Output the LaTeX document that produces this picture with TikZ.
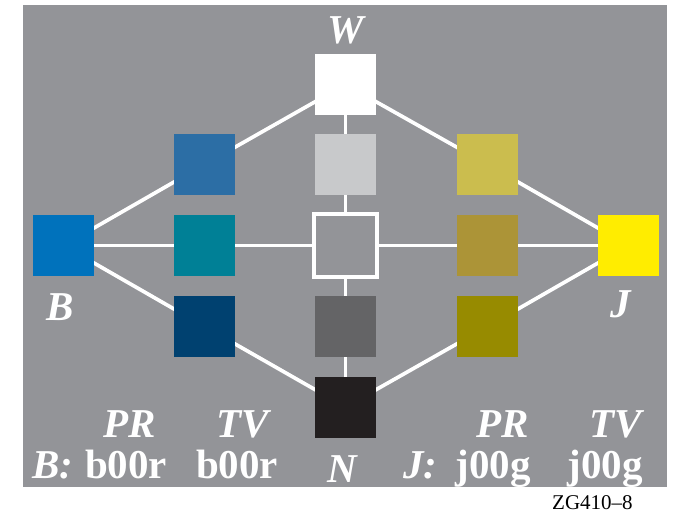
\documentclass[tikz,border=0pt]{standalone}
\usepackage{fontspec}
\setmainfont{Liberation Serif}
\usetikzlibrary{backgrounds}
\definecolor{bggray}{RGB}{147,148,152}
\definecolor{cB}{RGB}{0,114,188}
\definecolor{bTop}{RGB}{44,110,165}
\definecolor{bMid}{RGB}{0,128,150}
\definecolor{bBot}{RGB}{0,65,112}
\definecolor{nLight}{RGB}{200,201,203}
\definecolor{nDark}{RGB}{100,100,102}
\definecolor{nBlack}{RGB}{35,31,32}
\definecolor{jTop}{RGB}{203,189,78}
\definecolor{jMid}{RGB}{172,148,55}
\definecolor{jBot}{RGB}{151,139,0}
\definecolor{cJ}{RGB}{255,237,0}
\begin{document}
\begin{tikzpicture}[x=1pt,y=-1pt,
  patch/.style={draw=none,inner sep=0pt,minimum size=61pt},
  hollow/.style={draw=white,fill=bggray,line width=3.5pt,inner sep=0pt,minimum size=63pt},
  link/.style={white,line width=3.7pt},
  lbl/.style={text=white,inner sep=0pt,font=\fontsize{41}{41}\selectfont\bfseries\itshape},
  code/.style={text=white,inner sep=0pt,font=\fontsize{41}{41}\selectfont\bfseries}]
\useasboundingbox (0,0) rectangle (673,515);

% colour patches
\node[patch,fill=cB]     (B)  at (63.5,245.5) {};
\node[patch,fill=bTop]   (b1) at (204.5,164.5) {};
\node[patch,fill=bMid]   (b2) at (204.5,245.5) {};
\node[patch,fill=bBot]   (b3) at (204.5,326.5) {};
\node[patch,fill=white]  (W)  at (345.5,84.5) {};
\node[patch,fill=nLight] (n1) at (345.5,164.5) {};
\node[hollow]            (n2) at (345.5,245.5) {};
\node[patch,fill=nDark]  (n3) at (345.5,326.5) {};
\node[patch,fill=nBlack] (N)  at (345.5,407) {};
\node[patch,fill=jTop]   (j1) at (487.5,164.5) {};
\node[patch,fill=jMid]   (j2) at (487.5,245.5) {};
\node[patch,fill=jBot]   (j3) at (487.5,326.5) {};
\node[patch,fill=cJ]     (J)  at (628.5,245.5) {};

% panel and connecting lines behind the patches
\begin{pgfonlayer}{background}
\fill[bggray] (23,5) rectangle (667,487);
\draw[link] (B.center) -- (b1.center) -- (W.center) -- (j1.center) -- (J.center);
\draw[link] (B.center) -- (b3.center) -- (N.center) -- (j3.center) -- (J.center);
\draw[link] (B.center) -- (b2.center) -- (n2.center) -- (j2.center) -- (J.center);
\draw[link] (W.center) -- (n1.center) -- (n2.center) -- (n3.center) -- (N.center);
\end{pgfonlayer}

% labels
\node[lbl,anchor=base] (tW) at (345.5,43) {W};
\node[lbl,anchor=base] (tB) at (60,320) {B};
\node[lbl,anchor=base] (tJ) at (621,317) {J};
\node[lbl,anchor=base] (tN) at (342.5,482) {N};
\node[lbl,anchor=base] (pr1) at (129.5,437) {PR};
\node[lbl,anchor=base] (tv1) at (243,437) {TV};
\node[lbl,anchor=base] (pr2) at (503,437) {PR};
\node[lbl,anchor=base] (tv2) at (616,437) {TV};
\node[lbl,anchor=base west] (kB) at (32,478) {B:};
\node[code,anchor=base] (c1) at (126,478) {b00r};
\node[code,anchor=base] (c2) at (237,478) {b00r};
\node[lbl,anchor=base west] (kJ) at (403,478) {J:};
\node[code,anchor=base] (c3) at (493,478) {j00g};
\node[code,anchor=base] (c4) at (605,478) {j00g};
\node[inner sep=0pt,anchor=base west,font=\fontsize{21}{21}\selectfont] (id) at (552,509) {ZG410–8};
\end{tikzpicture}
\end{document}
